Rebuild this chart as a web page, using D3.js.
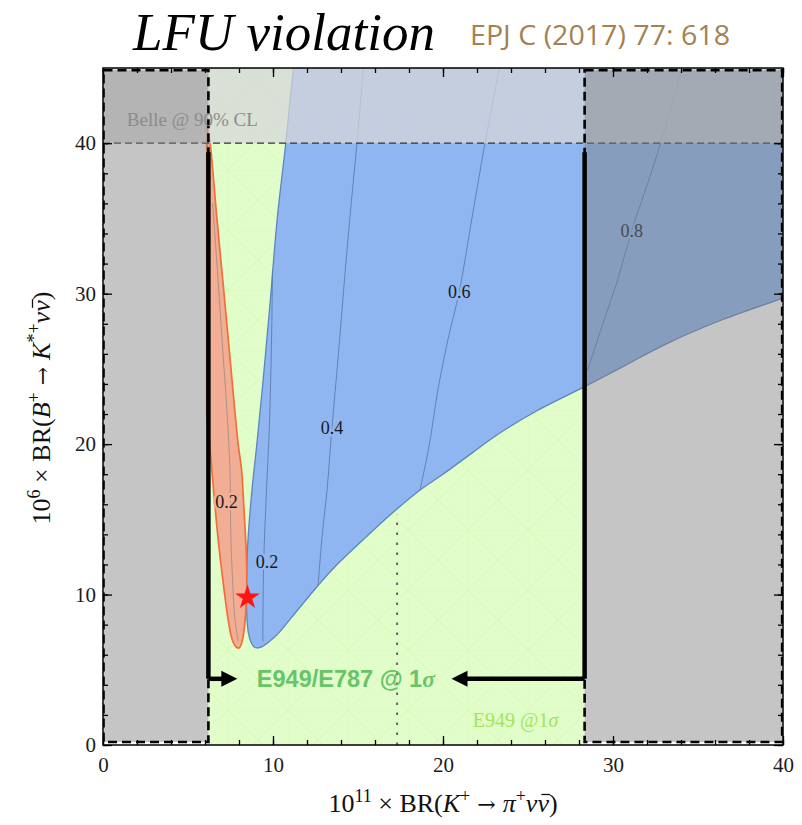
<!DOCTYPE html>
<html>
<head>
<meta charset="utf-8">
<script src="https://cdnjs.cloudflare.com/ajax/libs/d3/7.8.5/d3.min.js"></script>
<style>
  body { margin: 0; background: #fff; }
  svg { display: block; }
</style>
</head>
<body>
<svg id="chart" width="802" height="825"></svg>
<script>
// axis ticks
var xTicks = [0, 10, 20, 30, 40];
var yTicks = [0, 10, 20, 30, 40];

// experimental constraints
var e949Range = [6.2, 28.33];      // E949/E787 @ 1 sigma
var e949Central = 17.3;
var e949CentralTop = 15.3;
var belleLimit = 40;
var arrowLevel = 4.4;
var arrowTips = [7.9, 20.5];
var blackTop = 39.4;
var smPoint = [8.5, 9.8];

// allowed regions (x = 1e11 BR(K->pi nu nu), y = 1e6 BR(B->K* nu nu))
var blueRegion = [
  [11.4,47],[11.2,45],[10.75,40],[10.25,35],[9.8,29],[9.4,24],[9.05,20],[8.75,16.8],
  [8.55,14],[8.45,11.6],[8.44,9.5],[8.48,8.2],[8.56,7.4],[8.72,6.8],[8.9,6.52],[9.06,6.45],
  [9.3,6.5],[9.7,6.8],[10.3,7.4],[11.0,8.35],[11.8,9.45],[12.65,10.6],[13.6,11.8],[15.5,13.85],
  [17.0,15.4],[18.65,16.95],[20.0,18.0],[21.7,19.4],[23.3,20.7],[25.5,22.2],[28.3,23.8],
  [30.5,25.1],[33.2,26.7],[36.5,28.3],[40,29.7],[42,30.5],[42,47]
];
var orangeRegion = [
  [6.1,41.4],[6.3,40],[6.7,35],[7.12,30],[7.53,25],[7.95,20],[8.15,18.3],[8.3,15.5],
  [8.42,13],[8.46,11.2],[8.43,9.6],[8.36,8.3],[8.24,7.2],[8.12,6.65],[8.0,6.45],[7.85,6.5],
  [7.6,7.0],[7.38,8.2],[7.18,9.8],[6.98,11.6],[6.7,14.5],[6.4,18.3],[6.15,21.5],[6.1,22]
];

// contour lines of the LFU ratio
var contourOrange02 = [[7.95,6.9],[7.75,8.5],[7.62,11],[7.52,14],[7.47,18.3],[7.3,22],[7.0,27],[6.7,32],[6.45,36]];
var contourBlue02 = [[9.4,6.9],[9.45,12],[9.62,17],[9.78,21],[9.88,25],[9.93,28],[9.97,31.5]];
var contourBlue04 = [[12.65,10.6],[12.9,14],[13.18,16.95],[13.47,21.1],[13.85,26],[14.24,31.4],[14.6,36],[14.94,40],[15.35,45.5]];
var contourBlue06 = [[18.65,16.95],[19.2,20],[19.7,23.6],[20.3,27],[20.95,30.1],[21.7,35],[22.47,40],[23.4,45.5]];
var contourBlue08 = [[28.5,24.9],[29.4,28],[30.3,31],[31.1,34.2],[32.0,37.2],[32.8,40],[34.2,45.5]];

var contourLabels = ["0.2", "0.2", "0.4", "0.6", "0.8"];
var contourLabelPos = [[7.27,16.2],[9.65,12.2],[13.47,21.1],[20.95,30.1],[31.1,34.2]];
var contourLabelHalo = ["#f1ae94", "#8fb6f0", "#8fb6f0", "#8fb6f0", "#8fb6f0"];

var svg = d3.select("#chart");
var x = d3.scaleLinear().domain([0, 40]).range([103, 783]);
var y = d3.scaleLinear().domain([0, 45]).range([745, 68]);

var line = d3.line()
    .x(function(d) { return x(d[0]); })
    .y(function(d) { return y(d[1]); })
    .curve(d3.curveCatmullRom.alpha(0.5));

var defs = svg.append("defs");
defs.append("clipPath").attr("id", "plotclip")
  .append("rect").attr("x", 103).attr("y", 68).attr("width", 680).attr("height", 677);
var mesh = defs.append("pattern").attr("id", "mesh")
    .attr("patternUnits", "userSpaceOnUse").attr("width", 60).attr("height", 60)
    .attr("x", 108).attr("y", 50);
mesh.append("path")
    .attr("d", "M0,0V60M0,0H60M0,0L60,60M60,0L0,60")
    .style("stroke", "#cff5aa").style("stroke-width", 1).style("fill", "none");

var plot = svg.append("g").attr("clip-path", "url(#plotclip)");

// green E949 band
plot.append("rect")
    .attr("x", x(e949Range[0])).attr("y", y(45))
    .attr("width", x(e949Range[1]) - x(e949Range[0])).attr("height", y(0) - y(45))
    .style("fill", "#e1fdca");
plot.append("rect")
    .attr("x", x(e949Range[0])).attr("y", y(45))
    .attr("width", x(e949Range[1]) - x(e949Range[0])).attr("height", y(0) - y(45))
    .style("fill", "url(#mesh)").style("opacity", 0.5);

// allowed regions
plot.append("path")
    .attr("d", line(blueRegion) + "Z")
    .style("fill", "#8fb6f0").style("stroke", "#5d84bf").style("stroke-width", 1.3);
plot.append("path")
    .attr("d", line(orangeRegion) + "Z")
    .style("fill", "#f1ae94").style("stroke", "#f26f3a").style("stroke-width", 1.7);

// contours
plot.append("path").attr("d", line(contourOrange02))
    .style("fill", "none").style("stroke", "#b09084").style("stroke-width", 1);
[contourBlue02, contourBlue04, contourBlue06, contourBlue08].forEach(function(c) {
  plot.append("path").attr("d", line(c))
      .style("fill", "none").style("stroke", "#5c7cae").style("stroke-width", 0.9);
});
contourLabels.forEach(function(t, i) {
  plot.append("text")
      .attr("x", x(contourLabelPos[i][0])).attr("y", y(contourLabelPos[i][1]))
      .attr("dy", "0.35em").attr("text-anchor", "middle")
      .style("font-family", "'Liberation Serif', serif").style("font-size", "18px")
      .style("fill", "#1a1a1a")
      .style("stroke", contourLabelHalo[i]).style("stroke-width", 5)
      .style("paint-order", "stroke")
      .text(t);
});

// Belle upper limit
plot.append("rect")
    .attr("x", x(0)).attr("y", y(45)).attr("width", x(40) - x(0)).attr("height", y(belleLimit) - y(45))
    .style("fill", "#d6d6d8").style("opacity", 0.75);
plot.append("line")
    .attr("x1", x(0)).attr("x2", x(40)).attr("y1", y(belleLimit)).attr("y2", y(belleLimit))
    .style("stroke", "#333").style("stroke-width", 1.2).style("stroke-dasharray", "7,4");

// excluded (grey) bands outside the E949 range
var greyBands = [[0.03, e949Range[0]], [e949Range[1], 39.95]];
greyBands.forEach(function(b) {
  plot.append("rect")
      .attr("x", x(b[0])).attr("y", y(44.85))
      .attr("width", x(b[1]) - x(b[0])).attr("height", y(0.2) - y(44.85))
      .style("fill", "#7f7f7f").style("opacity", 0.45);
  plot.append("rect")
      .attr("x", x(b[0])).attr("y", y(44.85))
      .attr("width", x(b[1]) - x(b[0])).attr("height", y(0.2) - y(44.85))
      .style("fill", "none").style("stroke", "#000").style("stroke-width", 2.6)
      .style("stroke-dasharray", "9,5");
});

// E949 boundaries and arrows
e949Range.forEach(function(v, i) {
  plot.append("line")
      .attr("x1", x(v)).attr("x2", x(v)).attr("y1", y(blackTop)).attr("y2", y(arrowLevel))
      .style("stroke", "#000").style("stroke-width", 4.5);
  var tip = x(arrowTips[i]);
  var dir = i === 0 ? 1 : -1;
  plot.append("line")
      .attr("x1", x(v)).attr("x2", tip - dir * 12).attr("y1", y(arrowLevel)).attr("y2", y(arrowLevel))
      .style("stroke", "#000").style("stroke-width", 4.5);
  var yy = y(arrowLevel);
  plot.append("path")
      .attr("d", "M" + tip + "," + yy + "L" + (tip - dir * 16) + "," + (yy - 8) +
                 "L" + (tip - dir * 16) + "," + (yy + 8) + "Z")
      .style("fill", "#000");
});

plot.append("line")
    .attr("x1", x(e949Central)).attr("x2", x(e949Central))
    .attr("y1", y(0)).attr("y2", y(e949CentralTop))
    .style("stroke", "#666").style("stroke-width", 2).style("stroke-dasharray", "2.5,7.5");

// SM point
plot.append("path")
    .attr("d", d3.symbol(d3.symbolStar).size(190)())
    .attr("transform", "translate(" + x(smPoint[0]) + "," + y(smPoint[1]) + ")")
    .style("fill", "#ff1414");

// annotations
plot.append("text")
    .attr("x", x(1.4)).attr("y", y(41.15))
    .style("font-family", "'Liberation Serif', serif").style("font-size", "19px")
    .style("fill", "#8c8c8c")
    .text("Belle @ 90% CL");
var big = plot.append("text")
    .attr("x", x(9.05)).attr("y", y(3.85))
    .style("font-family", "'Liberation Sans', Arial, sans-serif").style("font-size", "23.5px")
    .style("font-weight", "bold").style("fill", "#68c468");
big.append("tspan").text("E949/E787 @ 1");
big.append("tspan").style("font-family", "'Liberation Serif', serif").style("font-style", "italic").text("σ");
var small = plot.append("text")
    .attr("x", x(21.75)).attr("y", y(1.2))
    .style("font-family", "'Liberation Serif', serif").style("font-size", "20px")
    .style("fill", "#a4e45a");
small.append("tspan").text("E949 @1");
small.append("tspan").style("font-style", "italic").text("σ");

// frame and ticks
svg.append("rect")
    .attr("x", 103).attr("y", 68).attr("width", 680).attr("height", 677)
    .style("fill", "none").style("stroke", "#000").style("stroke-width", 1.5);

function addTicks(axis, g, major, labels) {
  g.call(axis.tickValues(d3.range(0, 41, 2)).tickSize(-5).tickFormat(""));
  g.select(".domain").remove();
  var g2 = g.append("g");
  g2.call(axis.tickValues(major).tickSize(-9).tickFormat(labels ? d3.format("d") : ""));
  g2.select(".domain").remove();
  g.selectAll("line").style("stroke", "#000").style("stroke-width", 1.3);
  g.selectAll("text")
      .style("font-family", "'Liberation Serif', serif").style("font-size", "21px")
      .style("fill", "#1c1c1c");
}
addTicks(d3.axisBottom(x).tickPadding(12), svg.append("g").attr("transform", "translate(0,745)"), xTicks, true);
addTicks(d3.axisTop(x), svg.append("g").attr("transform", "translate(0,68)"), xTicks, false);
addTicks(d3.axisLeft(y).tickPadding(7), svg.append("g").attr("transform", "translate(103,0)"), yTicks, true);
addTicks(d3.axisRight(y), svg.append("g").attr("transform", "translate(783,0)"), yTicks, false);

// axis titles (bar over the antineutrino drawn as a short line)
function richText(g, parts) {
  var txt = g.append("text").attr("text-anchor", "middle")
      .style("font-family", "'Liberation Serif', serif").style("font-size", "26px").style("fill", "#111");
  var offset = 0, barIndex = -1;
  parts.forEach(function(p) {
    var t = txt.append("tspan").text(p.t);
    if (p.i) t.style("font-style", "italic");
    if (p.arrow) t.style("font-family", "'DejaVu Serif', serif").style("font-size", "22px");
    if (p.sup) t.attr("dy", -10).style("font-size", "18px");
    if (p.back) t.attr("dy", 10);
    if (p.bar) barIndex = offset;
    offset += p.t.length;
  });
  if (barIndex >= 0) {
    var ext = txt.node().getExtentOfChar(barIndex);
    g.append("line")
        .attr("x1", ext.x + 4).attr("x2", ext.x + ext.width + 1)
        .attr("y1", -17.5).attr("y2", -17.5)
        .style("stroke", "#111").style("stroke-width", 1.3);
  }
}
richText(svg.append("g").attr("transform", "translate(443,812)"), [
  {t: "10"}, {t: "11", sup: true}, {t: " × BR(", back: true}, {t: "K", i: true}, {t: "+", sup: true},
  {t: " → ", back: true, arrow: true}, {t: "π", i: true}, {t: "+", sup: true}, {t: "ν", i: true, back: true},
  {t: "ν", i: true, bar: true}, {t: ")"}
]);
richText(svg.append("g").attr("transform", "translate(50,408) rotate(-90)"), [
  {t: "10"}, {t: "6", sup: true}, {t: " × BR(", back: true}, {t: "B", i: true}, {t: "+", sup: true},
  {t: " → ", back: true, arrow: true}, {t: "K", i: true}, {t: "*+", sup: true}, {t: "ν", i: true, back: true},
  {t: "ν", i: true, bar: true}, {t: ")"}
]);

// title
svg.append("text")
    .attr("x", 133).attr("y", 50)
    .attr("textLength", 302).attr("lengthAdjust", "spacingAndGlyphs")
    .style("font-family", "'Liberation Serif', serif").style("font-style", "italic")
    .style("font-size", "52px").style("fill", "#000")
    .text("LFU violation");
svg.append("text")
    .attr("x", 470).attr("y", 45)
    .attr("textLength", 260).attr("lengthAdjust", "spacingAndGlyphs")
    .style("font-family", "'Open Sans', sans-serif").style("font-size", "27px")
    .style("fill", "#a58152")
    .text("EPJ C (2017) 77: 618");
</script>
</body>
</html>
